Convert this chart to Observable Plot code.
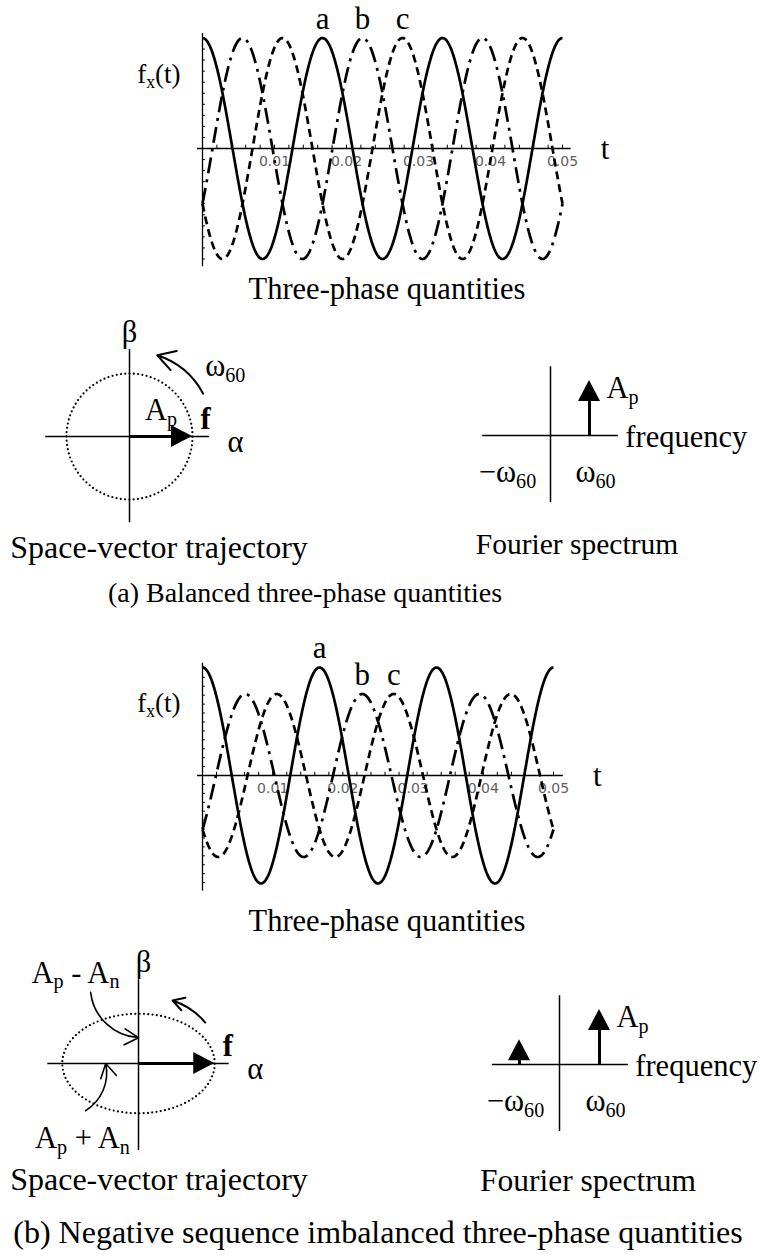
<!DOCTYPE html>
<html>
<head>
<meta charset="utf-8">
<script src="https://cdn.jsdelivr.net/npm/d3@7"></script>
<script src="https://cdn.jsdelivr.net/npm/@observablehq/plot@0.6"></script>
<style>
  body { margin: 0; background: #fff; }
  #fig { position: relative; width: 760px; height: 1258px; overflow: hidden;
         font-family: "Liberation Serif", "Times New Roman", serif; color: #000; }
  #fig svg { position: absolute; left: 0; top: 0; }
  .cap { position: absolute; font-size: 31px; line-height: 1; white-space: nowrap;
         transform: translate(-50%, -50%); }
</style>
</head>
<body>
<div id="fig">
  <div class="cap" style="left:387px; top:289px; font-size:30.5px">Three-phase quantities</div>
  <div class="cap" style="left:159px; top:547px; font-size:32px">Space-vector trajectory</div>
  <div class="cap" style="left:577px; top:545px; font-size:29.5px">Fourier spectrum</div>
  <div class="cap" style="left:305px; top:593px; font-size:28px">(a) Balanced three-phase quantities</div>
  <div class="cap" style="left:387px; top:921px; font-size:30.5px">Three-phase quantities</div>
  <div class="cap" style="left:159px; top:1179px; font-size:32px">Space-vector trajectory</div>
  <div class="cap" style="left:588px; top:1181px; font-size:31.5px">Fourier spectrum</div>
  <div class="cap" style="left:378px; top:1232px; font-size:32px">(b) Negative sequence imbalanced three-phase quantities</div>
</div>
<script>
// ---- data -------------------------------------------------------------
const supplyFreq = 60;                      // Hz
const phaseNames = ["a", "b", "c"];
const phaseShiftDeg = [0, -120, 120];       // positive-sequence displacement of a, b, c
const timeTicks = [0.01, 0.02, 0.03, 0.04, 0.05];
const sampleTimes = d3.range(0, 0.05 + 1e-9, 0.0001);

// sequence magnitudes: case (a) balanced, case (b) negative-sequence imbalance
const posSeq = [1, 1];
const negSeq = [0, 0.21];

// spectral lines (frequency in units of ω60, height relative to A_p)
const specFreqA = [1];
const specAmpA = [1];
const specFreqB = [-1, 1];
const specAmpB = [0.45, 1];

// ---- helpers ----------------------------------------------------------
const serif = "Liberation Serif, Times New Roman, serif";
const fig = document.getElementById("fig");
const SVGNS = "http://www.w3.org/2000/svg";

// "A_p" -> A with subscript p, "ω_60" -> ω with subscript 60
function applySubscripts(root) {
  root.querySelectorAll("text").forEach(t => {
    const s = t.textContent;
    if (!s.includes("_")) return;
    const fs = parseFloat(getComputedStyle(t).fontSize) || 28;
    const shift = fs * 0.18;
    t.textContent = "";
    let lowered = false;
    s.split(/(_(?:\d+|[A-Za-z]))/).forEach(part => {
      if (!part) return;
      const span = document.createElementNS(SVGNS, "tspan");
      if (part.startsWith("_")) {
        span.textContent = part.slice(1);
        span.setAttribute("font-size", (fs * 0.66).toFixed(1));
        if (!lowered) span.setAttribute("dy", shift.toFixed(1));
        lowered = true;
      } else {
        span.textContent = part;
        if (lowered) span.setAttribute("dy", (-shift).toFixed(1));
        lowered = false;
      }
      t.appendChild(span);
    });
  });
}

function frame(xScale, yScale, marks) {
  const chart = Plot.plot({
    width: 760, height: 1258,
    style: { background: "transparent", overflow: "visible", fontFamily: serif },
    x: { ...xScale, axis: null },
    y: { ...yScale, axis: null },
    marks
  });
  fig.appendChild(chart);
  applySubscripts(chart);
  return chart;
}

const label = (txt, o) => Plot.text([txt], { text: d => d, fontFamily: serif, fontSize: 30.5, ...o });

// ---- three-phase waveforms ---------------------------------------------
function phasePanel(Ap, An, L) {
  const peak = Ap + An;
  const w = 2 * Math.PI * supplyFreq;
  const rows = [];
  const tags = [];
  phaseNames.forEach((name, k) => {
    const s = phaseShiftDeg[k] * Math.PI / 180;
    for (const t of sampleTimes) rows.push({ name, t, v: Ap * Math.cos(w * t + s) + An * Math.cos(w * t - s) });
    // phasor of this phase -> amplitude and time of its peak in the second cycle
    const re = (Ap + An) * Math.cos(s), im = (Ap - An) * Math.sin(s);
    const phi = Math.atan2(im, re);
    const frac = (((-phi / (2 * Math.PI)) % 1) + 1) % 1;
    tags.push({ name, t: (1 + frac) / supplyFreq, v: Math.hypot(re, im) });
  });
  const minor = d3.ticks(0, 0.05, 25);
  const yMinor = d3.ticks(-peak, peak, 20);
  const dash = { a: null, b: "16,6,3,6", c: "8,5" };
  return frame(
    { domain: [0, 0.05], range: [L.x0, L.x0 + 0.05 * L.pxPerSec] },
    { domain: [-peak, peak], range: [L.zero + L.amp, L.zero - L.amp] },
    [
      Plot.ruleY([0], { x1: -0.0007, x2: L.xEnd, stroke: "#000", strokeWidth: 1.3 }),
      Plot.ruleX([0], { y1: -peak * 1.07, y2: peak * 1.04, stroke: "#000", strokeWidth: 1.3 }),
      Plot.ruleX(minor, { x: d => d, y1: 0, y2: peak * 0.03, stroke: "#000", strokeWidth: 1 }),
      Plot.ruleY(yMinor, { y: d => d, x1: 0, x2: 0.0004, stroke: "#000", strokeWidth: 1 }),
      Plot.text(timeTicks, { x: d => d, y: 0, dy: 13, text: d => d3.format(".2f")(d),
        fill: "#606060", fontFamily: "DejaVu Sans, sans-serif", fontSize: 14 }),
      ...phaseNames.map(n => Plot.line(rows.filter(r => r.name === n), {
        x: "t", y: "v", stroke: "#000", strokeWidth: 2.7, strokeLinecap: "butt",
        strokeDasharray: dash[n], curve: "linear"
      })),
      Plot.text(tags, { x: "t", y: "v", dy: -19, text: "name", fontFamily: serif, fontSize: 31 }),
      label("f_x(t)", { x: 0, y: peak * 0.67, dx: -22, textAnchor: "end", fontSize: 27 }),
      label("t", { x: L.xEnd, y: 0, dx: 34, dy: 1, fontSize: 31 })
    ]
  );
}

// ---- space-vector trajectory -------------------------------------------
function vectorPanel(Ap, An, L) {
  const major = Ap + An, minorAx = Ap - An;
  const traj = d3.range(0, 361, 1.5).map(deg => {
    const a = deg * Math.PI / 180;
    return { x: major * Math.cos(a), y: minorAx * Math.sin(a) };
  });
  const hl = 21 / L.unit, hw = 11 / L.unit;   // arrowhead size
  const head = [{ x: major - hl, y1: -hw, y2: hw }, { x: major, y1: 0, y2: 0 }];
  const marks = [
    Plot.ruleY([0], { x1: L.hAxis[0], x2: L.hAxis[1], stroke: "#000", strokeWidth: 1.5 }),
    Plot.ruleX([0], { y1: L.vAxis[0], y2: L.vAxis[1], stroke: "#000", strokeWidth: 1.5 }),
    Plot.line(traj, { x: "x", y: "y", stroke: "#000", strokeWidth: 2.2,
      strokeDasharray: "0,4.3", strokeLinecap: "round" }),
    Plot.link([0], { x1: 0, y1: 0, x2: major - hl + 0.02, y2: 0, stroke: "#000", strokeWidth: 3.2 }),
    Plot.areaY(head, { x: "x", y1: "y1", y2: "y2", fill: "#000" }),
    Plot.arrow([0], { x1: L.spin[0], y1: L.spin[1], x2: L.spin[2], y2: L.spin[3], bend: L.spin[4],
      headLength: 15, strokeWidth: 2, stroke: "#000" }),
    label("β", { x: 0, y: L.vAxis[1], dy: -17, dx: L.betaDx }),
    label("α", { x: L.hAxis[1], y: 0, dx: 26, dy: 6 }),
    label("f", { x: major, y: 0, dx: 13, dy: -17, fontWeight: "bold" })
  ];
  if (L.spinLabel) marks.push(label(L.spinLabel, { x: L.spin[0], y: L.spin[1], dx: 2, dy: -27, textAnchor: "start" }));
  if (L.vecLabel) marks.push(label(L.vecLabel, { x: major * 0.5, y: 0, dy: -26 }));
  for (const c of L.callouts || []) {
    marks.push(Plot.arrow([0], { x1: c.from[0], y1: c.from[1], x2: c.to[0], y2: c.to[1], bend: c.bend,
      headLength: 15, strokeWidth: 1.6, stroke: "#000" }));
    marks.push(label(c.text, { x: c.at[0], y: c.at[1] }));
  }
  return frame(
    { domain: [-1, 1], range: [L.cx - L.unit, L.cx + L.unit] },
    { domain: [-1, 1], range: [L.cy + L.unit, L.cy - L.unit] },
    marks
  );
}

// ---- Fourier spectrum ---------------------------------------------------
function spectrumPanel(freqs, amps, L) {
  const hh = 21 / L.uy, hw = 11 / L.ux;
  const lines = freqs.map((f, i) => ({ f, amp: amps[i] }));
  const heads = lines.flatMap(d => [
    { f: d.f, y: d.amp - hh, x1: d.f - hw, x2: d.f + hw },
    { f: d.f, y: d.amp, x1: d.f, x2: d.f }
  ]);
  return frame(
    { domain: [-1, 1], range: [L.cx - L.ux, L.cx + L.ux] },
    { domain: [0, 1], range: [L.cy, L.cy - L.uy] },
    [
      Plot.ruleY([0], { x1: L.hAxis[0], x2: L.hAxis[1], stroke: "#000", strokeWidth: 1.5 }),
      Plot.ruleX([0], { y1: L.vAxis[0], y2: L.vAxis[1], stroke: "#000", strokeWidth: 1.5 }),
      Plot.ruleX(lines, { x: "f", y1: 0, y2: d => d.amp - hh + 0.02, stroke: "#000", strokeWidth: 3 }),
      Plot.areaX(heads, { y: "y", x1: "x1", x2: "x2", z: "f", fill: "#000" }),
      label("A_p", { x: 1, y: 1, dx: 17, dy: 8, textAnchor: "start" }),
      label("frequency", { x: L.hAxis[1], y: 0, dx: 7, dy: 2, textAnchor: "start" }),
      label("−ω_60", { x: -1, y: 0, dx: -4, dy: 37 }),
      label("ω_60", { x: 1, y: 0, dx: 6, dy: 37 })
    ]
  );
}

// ---- (a) balanced -------------------------------------------------------
phasePanel(posSeq[0], negSeq[0], { x0: 202, pxPerSec: 7200, zero: 148, amp: 110.5, xEnd: 0.0512 });
vectorPanel(posSeq[0], negSeq[0], {
  cx: 129, cy: 436, unit: 63, hAxis: [-1.33, 1.27], vAxis: [-1.37, 1.38], betaDx: 0,
  spin: [1.17, 0.68, 0.44, 1.29, -22], spinLabel: "ω_60", vecLabel: "A_p"
});
spectrumPanel(specFreqA, specAmpA, { cx: 550, cy: 435, ux: 39, uy: 55, hAxis: [-1.74, 1.74], vAxis: [-1.22, 1.25] });

// ---- (b) negative-sequence imbalance -----------------------------------
phasePanel(posSeq[1], negSeq[1], { x0: 202, pxPerSec: 7020, zero: 775, amp: 108, xEnd: 0.0514 });
vectorPanel(posSeq[1], negSeq[1], {
  cx: 138, cy: 1063, unit: 63, hAxis: [-1.44, 1.44], vAxis: [-1.38, 1.33], betaDx: 5,
  spin: [1.06, 0.65, 0.54, 1.0, -16],
  callouts: [
    { text: "A_p - A_n", at: [-1.0, 1.44], from: [-0.76, 1.13], to: [0, 0.41], bend: -40 },
    { text: "A_p + A_n", at: [-0.89, -1.19], from: [-0.84, -0.75], to: [-0.52, 0], bend: -35 }
  ]
});
spectrumPanel(specFreqB, specAmpB, { cx: 559, cy: 1064, ux: 40, uy: 55, hAxis: [-1.68, 1.72], vAxis: [-1.22, 1.25] });
</script>
</body>
</html>
